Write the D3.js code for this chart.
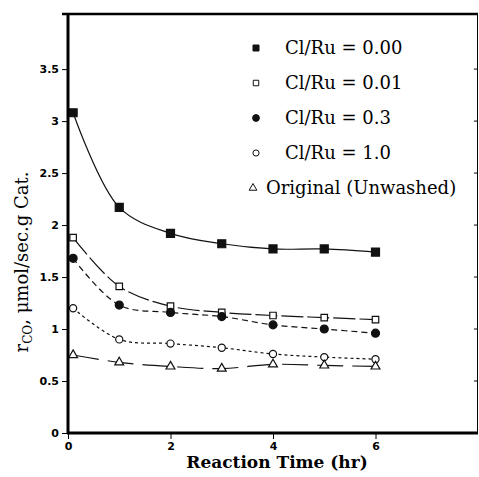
<html>
<head>
<script src="https://d3js.org/d3.v7.min.js"></script>
<style>
  body { margin: 0; background: #fff; }
  text { font-family: "DejaVu Serif", "Liberation Serif", serif; }
</style>
</head>
<body>
<script>
// values
var times = [0.1, 1, 2, 3, 4, 5, 6];
var cl000 = [3.08, 2.17, 1.92, 1.82, 1.77, 1.77, 1.74];
var cl001 = [1.88, 1.41, 1.22, 1.16, 1.13, 1.11, 1.09];
var cl03  = [1.68, 1.23, 1.16, 1.12, 1.04, 1.00, 0.96];
var cl10  = [1.20, 0.90, 0.86, 0.82, 0.76, 0.73, 0.71];
var orig  = [0.75, 0.68, 0.64, 0.62, 0.66, 0.65, 0.64];
var labels = ["Cl/Ru = 0.00", "Cl/Ru = 0.01", "Cl/Ru = 0.3", "Cl/Ru = 1.0", "Original (Unwashed)"];
var xTicks = [0, 2, 4, 6];
var yTicks = [0, 0.5, 1, 1.5, 2, 2.5, 3, 3.5];

var width = 479, height = 477;
var margin = {top: 14, right: 1, bottom: 44, left: 68};

var svg = d3.select("body").append("svg")
    .attr("width", width)
    .attr("height", height);

var x = d3.scaleLinear().domain([0, 8]).range([margin.left, width - margin.right]);
var y = d3.scaleLinear().domain([0, 4.03]).range([height - margin.bottom, margin.top]);

var series = [
  {name: labels[0], vals: cl000, sym: "square", fill: true,  dash: null},
  {name: labels[1], vals: cl001, sym: "square", fill: false, dash: "22,4"},
  {name: labels[2], vals: cl03,  sym: "circle", fill: true,  dash: "6,4"},
  {name: labels[3], vals: cl10,  sym: "circle", fill: false, dash: "3,3"},
  {name: labels[4], vals: orig,  sym: "triangle", fill: false, dash: "26,9"}
];

var line = d3.line()
    .x(d => x(d[0]))
    .y(d => y(d[1]))
    .curve(d3.curveCatmullRom.alpha(0.5));

// curves
series.forEach(function(s) {
  var pts = times.map((t, i) => [t, s.vals[i]]);
  svg.append("path")
      .attr("d", line(pts))
      .attr("fill", "none")
      .attr("stroke", "#111")
      .attr("stroke-width", 1.2)
      .attr("stroke-dasharray", s.dash);
});

function symbolFor(s) {
  if (s.sym == "square") return d3.symbol().type(d3.symbolSquare).size(s.fill ? 64 : 42);
  if (s.sym == "circle") return d3.symbol().type(d3.symbolCircle).size(s.fill ? 50 : 40);
  return d3.symbol().type(d3.symbolTriangle).size(34);
}

// markers
series.forEach(function(s) {
  svg.append("g").selectAll("path")
    .data(times.map((t, i) => [t, s.vals[i]]))
    .enter().append("path")
      .attr("transform", d => `translate(${x(d[0])},${y(d[1])})`)
      .attr("d", symbolFor(s)())
      .attr("fill", s.fill ? "#111" : "#fff")
      .attr("stroke", "#111")
      .attr("stroke-width", 1.2);
});

// frame
var x0 = x(0), x1 = x(8), y0 = y(0), y1 = y(4.03);
svg.append("line").attr("x1", x0).attr("x2", x0).attr("y1", y1 - 1).attr("y2", y0 + 1)
    .attr("stroke", "#000").attr("stroke-width", 3);
svg.append("line").attr("x1", x0 - 1).attr("x2", x1).attr("y1", y0).attr("y2", y0)
    .attr("stroke", "#000").attr("stroke-width", 3);
svg.append("line").attr("x1", x0 - 6).attr("x2", x1).attr("y1", y1).attr("y2", y1)
    .attr("stroke", "#000").attr("stroke-width", 2.5);
svg.append("line").attr("x1", x1 - 0.5).attr("x2", x1 - 0.5).attr("y1", y1).attr("y2", y0)
    .attr("stroke", "#000").attr("stroke-width", 1);

// y axis
var yAxis = svg.append("g")
    .attr("transform", `translate(${x0 - 1},0)`)
    .call(d3.axisLeft(y).tickValues(yTicks).tickSize(5).tickPadding(3).tickFormat(d3.format("")))
    .call(g => g.select(".domain").remove());
yAxis.selectAll("text")
    .style("font-family", "'DejaVu Sans', sans-serif")
    .style("font-weight", "bold")
    .style("font-size", "11px");

// small ticks on right side
svg.append("g").selectAll("line").data(yTicks).enter().append("line")
    .attr("x1", x1 - 4).attr("x2", x1)
    .attr("y1", d => y(d)).attr("y2", d => y(d))
    .attr("stroke", "#000");

// x axis
var xAxis = svg.append("g")
    .attr("transform", `translate(0,${y0 + 1})`)
    .call(d3.axisBottom(x).tickValues(xTicks).tickSize(5).tickPadding(3))
    .call(g => g.select(".domain").remove());
xAxis.selectAll("text")
    .style("font-family", "'DejaVu Sans', sans-serif")
    .style("font-weight", "bold")
    .style("font-size", "11px");

// axis titles
svg.append("text")
    .attr("x", 277)
    .attr("y", 468)
    .attr("text-anchor", "middle")
    .style("font-size", "17px")
    .style("font-weight", "bold")
    .text("Reaction Time (hr)");

var yt = svg.append("text")
    .attr("transform", "translate(28,262) rotate(-90)")
    .attr("text-anchor", "middle")
    .style("font-size", "18px");
yt.append("tspan").text("r");
yt.append("tspan").attr("dy", 4).style("font-size", "12px").text("CO");
yt.append("tspan").attr("dy", -4).text(", \u03bcmol/sec.g Cat.");

// legend
var leg = svg.append("g");
series.forEach(function(s, i) {
  var ly = 48 + i * 35;
  var mx = i == 4 ? 253 : 256;
  leg.append("path")
      .attr("transform", `translate(${mx},${ly})`)
      .attr("d", symbolFor(s).size(s.sym == "triangle" ? 26 : (s.fill ? 36 : 30))())
      .attr("fill", s.fill ? "#111" : "#fff")
      .attr("stroke", "#111")
      .attr("stroke-width", 1);
  leg.append("text")
      .attr("x", i == 4 ? 266 : 285)
      .attr("y", ly + 6)
      .style("font-size", "18px")
      .text(s.name);
});
</script>
</body>
</html>
